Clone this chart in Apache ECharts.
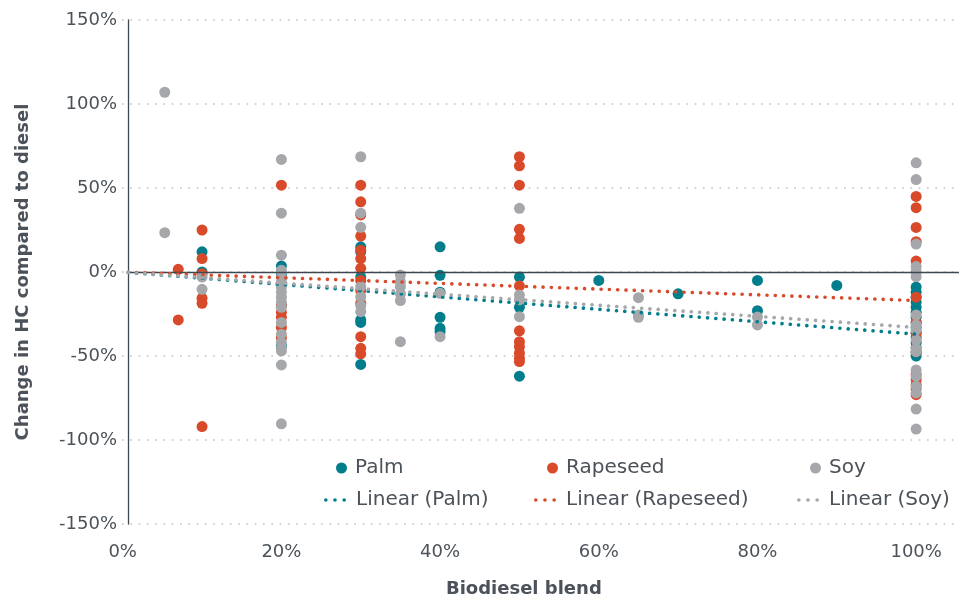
<!DOCTYPE html>
<html>
<head>
<meta charset="utf-8">
<style>
  html, body { margin: 0; padding: 0; background: #ffffff; }
  #chart { width: 978px; height: 601px; }
</style>
<script src="https://cdn.jsdelivr.net/npm/echarts@6/dist/echarts.min.js"></script>
</head>
<body>
<div id="chart"></div>
<script>
// Change in hydrocarbon (HC) emissions vs. diesel, by biodiesel blend (%).
// Each entry: [blend %, change %]
const palm = [
  [10, 12], [10, 0],
  [20, 3.5], [20, -2], [20, -20], [20, -44],
  [30, 15], [30, 12], [30, -3], [30, -28.5], [30, -30], [30, -55],
  [40, 15], [40, -2], [40, -12], [40, -27], [40, -33.5], [40, -35.5],
  [50, -3], [50, -21], [50, -62],
  [60, -5], [70, -13], [80, -5], [80, -23], [90, -8],
  [100, -9], [100, -12], [100, -15], [100, -18], [100, -21], [100, -24],
  [100, -27], [100, -30], [100, -33], [100, -36], [100, -39], [100, -42],
  [100, -45], [100, -48], [100, -50]
];
const rapeseed = [
  [7, 1.6], [7, -28.5],
  [10, 25], [10, 8], [10, -1], [10, -15.6], [10, -18.6], [10, -92],
  [20, 51.7], [20, -20], [20, -24], [20, -27], [20, -33], [20, -39],
  [30, 51.7], [30, 41.8], [30, 34], [30, 21.4], [30, 13], [30, 8], [30, 2.2],
  [30, -5], [30, -11], [30, -18.6], [30, -38.5], [30, -45.4], [30, -48.7],
  [50, 68.6], [50, 63.2], [50, 51.7], [50, 25.4], [50, 20], [50, -8.3],
  [50, -35], [50, -41.5], [50, -44.5], [50, -48.3], [50, -51.3], [50, -53.3],
  [100, 45], [100, 38.3], [100, 26.5], [100, 18], [100, 6.5], [100, -15],
  [100, -30], [100, -36.5], [100, -47.4], [100, -61], [100, -64], [100, -67],
  [100, -69.6], [100, -73]
];
const soy = [
  [5.3, 107], [5.3, 23.4],
  [10, -3], [10, -10.3],
  [20, 67], [20, 35], [20, 10], [20, 1], [20, -3], [20, -6], [20, -9],
  [20, -12], [20, -15], [20, -18], [20, -21], [20, -30], [20, -37],
  [20, -42], [20, -45.4], [20, -47], [20, -55.3], [20, -90.4],
  [30, 68.6], [30, 35], [30, 26.6], [30, -8.7], [30, -14.7], [30, -20], [30, -23.6],
  [35, -1.8], [35, -5.8], [35, -8.7], [35, -13], [35, -17], [35, -41.5],
  [40, -12.7], [40, -38.5],
  [50, 37.9], [50, -13.7], [50, -16.6], [50, -26.6],
  [65, -15.3], [65, -25.6], [65, -27],
  [80, -26.8], [80, -31.5],
  [100, 65], [100, 55], [100, 16.6], [100, 3.2], [100, 0.2], [100, -2.8],
  [100, -25.6], [100, -31.5], [100, -34.5], [100, -40.4], [100, -45.4],
  [100, -47.4], [100, -58.3], [100, -62], [100, -68], [100, -72],
  [100, -81.6], [100, -93.5]
];

// Linear trend lines (start and end of each fitted line), drawn from the
// vertical axis position out to a 100% blend
const trendPalm = [[0.7, -0.26], [100, -37]];
const trendRapeseed = [[0.7, -0.12], [100, -17]];
const trendSoy = [[0.7, -0.23], [100, -33]];

// Axis ranges / ticks
const blendMin = 0, blendMax = 105.4, blendStep = 20;
const axisBlend = 0.7;          // blend value where the vertical axis line sits
const changeMin = -150, changeMax = 150, changeStep = 50;

const COLORS = { palm: '#017d8c', rapeseed: '#d84a29', soy: '#a5a7aa' };
const TEXT = '#4b5259';
const AXIS = '#3e4850';
const FONT = 'DejaVu Sans';

const dotsIcon = 'path://M0 1a1 1 0 1 0 2 0a1 1 0 1 0 -2 0zM5 1a1 1 0 1 0 2 0a1 1 0 1 0 -2 0zM10 1a1 1 0 1 0 2 0a1 1 0 1 0 -2 0z';

function legendAt(name, left, top, isTrend) {
  return {
    data: [name],
    left: left,
    top: top,
    icon: isTrend ? dotsIcon : 'circle',
    itemWidth: isTrend ? 22 : 11,
    itemHeight: isTrend ? 3.7 : 11,
    itemGap: 0,
    selectedMode: false,
    textStyle: {
      fontFamily: FONT, fontSize: 20, color: TEXT,
      padding: [0, 0, 0, isTrend ? 5 : 3]
    },
    itemStyle: { borderWidth: 0 },
    lineStyle: { width: 0 }
  };
}

const scatterBase = {
  type: 'scatter',
  symbol: 'circle',
  symbolSize: 11,
  z: 2,
  emphasis: { disabled: true }
};

function trendSeries(name, data, color) {
  return {
    name: name,
    type: 'line',
    data: data,
    showSymbol: false,
    symbol: 'none',
    z: 5,
    silent: true,
    color: color,
    lineStyle: { color: color, width: 3.6, type: [0.1, 8.2], cap: 'round' },
    emphasis: { disabled: true }
  };
}

const chart = echarts.init(document.getElementById('chart'), null, { renderer: 'canvas' });
chart.setOption({
  animation: false,
  backgroundColor: '#ffffff',
  grid: {
    left: 122.7, right: 19, top: 20, bottom: 77,
    containLabel: false,
    outerBoundsMode: 'none'
  },
  xAxis: {
    type: 'value',
    min: blendMin,
    max: blendMax,
    interval: blendStep,
    name: 'Biodiesel blend',
    nameLocation: 'middle',
    nameGap: 56,
    nameTextStyle: {
      fontFamily: FONT, fontSize: 18, fontWeight: 'bold', color: TEXT,
      padding: [0, 34, 0, 0]
    },
    axisLine: { show: false },
    axisTick: { show: false },
    splitLine: { show: false },
    axisLabel: {
      formatter: v => v + '%',
      margin: 19,
      fontFamily: FONT, fontSize: 18, color: TEXT,
      showMaxLabel: false
    }
  },
  yAxis: {
    type: 'value',
    min: changeMin,
    max: changeMax,
    interval: changeStep,
    offset: -5.3,
    name: 'Change in HC compared to diesel',
    nameLocation: 'middle',
    nameGap: 96,
    nameTextStyle: { fontFamily: FONT, fontSize: 18, fontWeight: 'bold', color: TEXT },
    axisLine: { show: true, onZero: false, lineStyle: { color: AXIS, width: 1.3 } },
    axisTick: { show: false },
    axisLabel: {
      formatter: v => v + '%',
      margin: 11,
      fontFamily: FONT, fontSize: 18, color: TEXT
    },
    splitLine: {
      show: true,
      lineStyle: { color: '#cfd0d2', width: 2, type: [0.1, 8.2], cap: 'round' }
    }
  },
  legend: [
    legendAt('Palm', 331, 453, false),
    legendAt('Rapeseed', 542, 453, false),
    legendAt('Soy', 805, 453, false),
    legendAt('Linear (Palm)', 319, 485, true),
    legendAt('Linear (Rapeseed)', 529, 485, true),
    legendAt('Linear (Soy)', 792, 485, true)
  ],
  series: [
    Object.assign({}, scatterBase, {
      name: 'Palm', data: palm, itemStyle: { color: COLORS.palm, opacity: 1 },
      markLine: {
        silent: true,
        symbol: 'none',
        label: { show: false },
        lineStyle: { color: AXIS, width: 1.3, type: 'solid' },
        data: [[{ coord: [axisBlend, 0] }, { coord: [blendMax, 0] }]]
      }
    }),
    Object.assign({}, scatterBase, { name: 'Rapeseed', data: rapeseed, itemStyle: { color: COLORS.rapeseed, opacity: 1 } }),
    Object.assign({}, scatterBase, { name: 'Soy', data: soy, itemStyle: { color: COLORS.soy, opacity: 1 } }),
    trendSeries('Linear (Palm)', trendPalm, COLORS.palm),
    trendSeries('Linear (Rapeseed)', trendRapeseed, COLORS.rapeseed),
    trendSeries('Linear (Soy)', trendSoy, COLORS.soy)
  ]
});
</script>
</body>
</html>
